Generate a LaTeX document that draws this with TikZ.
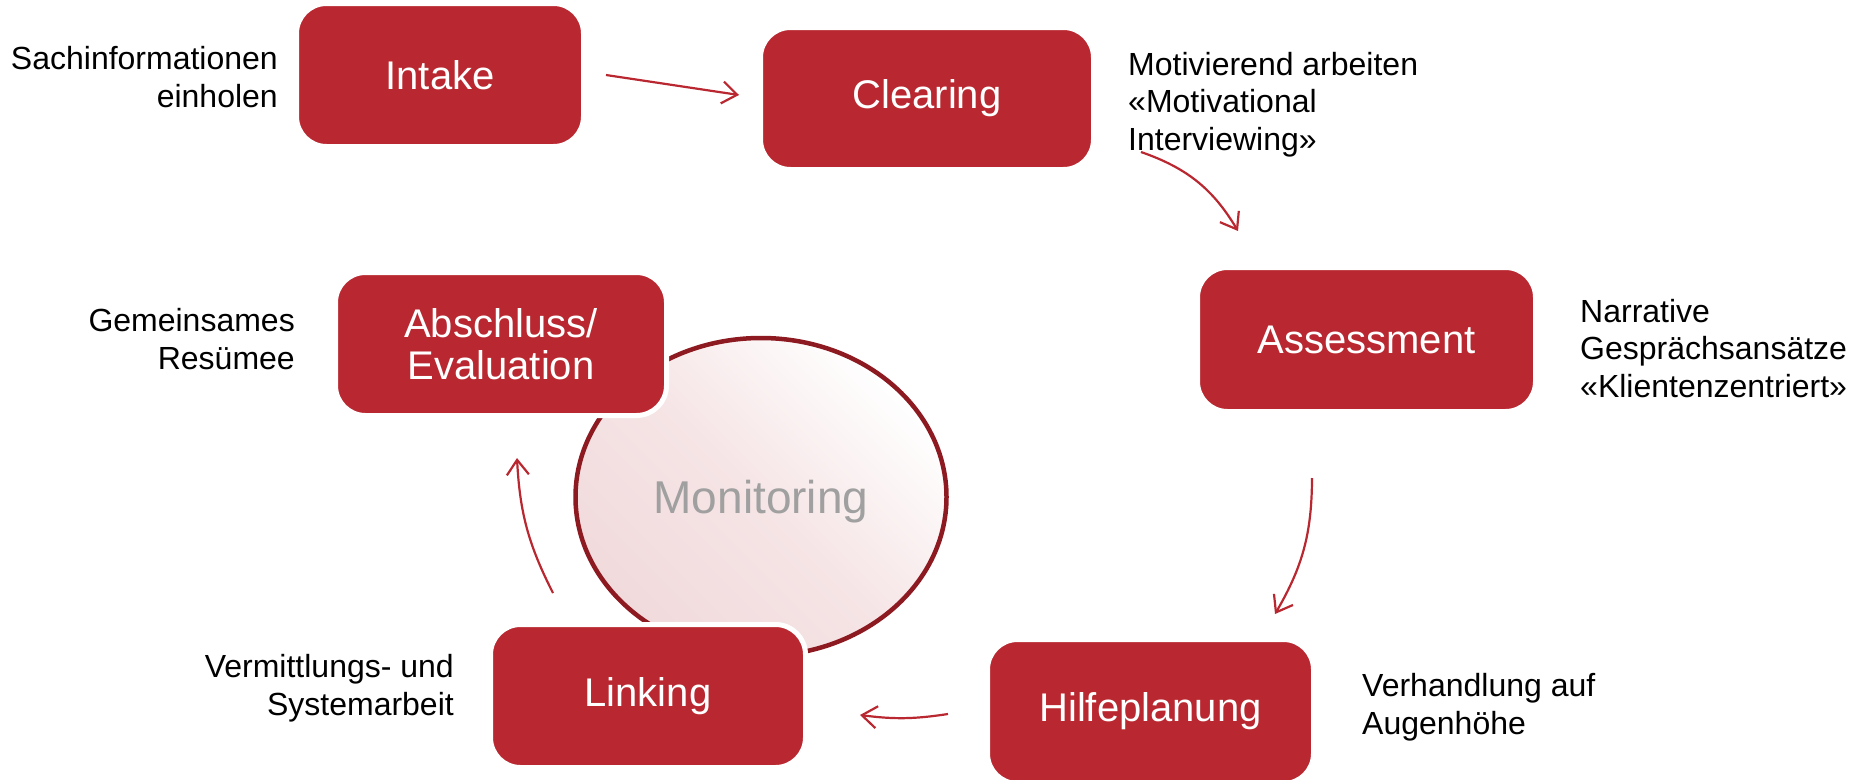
\documentclass[tikz,border=0pt]{standalone}
\usepackage{fontspec}
\setmainfont{Liberation Sans}
\usetikzlibrary{shapes.geometric,arrows.meta}
\definecolor{boxred}{RGB}{185,40,48}
\definecolor{ringred}{RGB}{140,26,32}
\definecolor{pinkfill}{RGB}{241,218,220}
\definecolor{pinkmid}{RGB}{246,229,230}
\definecolor{montext}{RGB}{160,160,160}
\begin{document}
\begin{tikzpicture}[x=1pt,y=-1pt,
  stage/.style={fill=boxred, draw=white, line width=5pt, rounded corners=30pt,
    text=white, font=\fontsize{40}{42}\selectfont, align=center, inner sep=0pt},
  note/.style={font=\fontsize{32}{37.5}\selectfont, inner sep=0pt, text=black},
  flow/.style={draw=boxred, line width=2.2pt, -{Straight Barb[length=15pt,width=22pt]}}
]
\useasboundingbox (0,0) rectangle (1860,779);

% central ellipse
\node[ellipse, draw=ringred, line width=4.5pt, minimum width=371pt, minimum height=318pt,
  top color=white, bottom color=pinkfill, middle color=pinkmid, shading angle=-45,
  text=montext, font=\fontsize{46}{48}\selectfont, text depth=0pt] (mon) at (761,497) {Monitoring};

% stages
\node[stage, minimum width=287pt, minimum height=143pt] (intake) at (440,75) {Intake};
\node[stage, minimum width=333pt, minimum height=142pt] (clearing) at (927,98.5) {Clearing};
\node[stage, minimum width=338pt, minimum height=144pt] (assess) at (1366.5,339.5) {Assessment};
\node[stage, minimum width=326pt, minimum height=144pt] (hilfe) at (1150.5,711.5) {Hilfeplanung};
\node[stage, minimum width=315pt, minimum height=143pt] (linking) at (648,696) {Linking};
\node[stage, minimum width=331pt, minimum height=143pt] (abschluss) at (501,344) {Abschluss/\\Evaluation};

% connector end points
\coordinate (a1s) at (606,75);   \coordinate (a1e) at (739,95);
\coordinate (a2s) at (1141,152); \coordinate (a2e) at (1238,231);
\coordinate (a3s) at (1312,478); \coordinate (a3e) at (1275,614);
\coordinate (a4s) at (948,714);  \coordinate (a4e) at (860,715);
\coordinate (a5s) at (553,593);  \coordinate (a5e) at (517,458);

\draw[flow] (a1s) -- (a1e);
\draw[flow] (a2s) to[bend left=20] (a2e);
\draw[flow] (a3s) to[bend left=15] (a3e);
\draw[flow] (a4s) to[bend left=8] (a4e);
\draw[flow] (a5s) to[bend left=12] (a5e);

% notes (base anchor = baseline of the last line)
\node[note, anchor=base east, align=right] (n1) at (278,107) {Sachinformationen\\einholen};
\node[note, anchor=base west, align=left] (n2) at (1128,150) {Motivierend arbeiten\\«Motivational\\Interviewing»};
\node[note, anchor=base west, align=left] (n3) at (1580,397) {Narrative\\Gesprächsansätze\\«Klientenzentriert»};
\node[note, anchor=base west, align=left] (n4) at (1362,734) {Verhandlung auf\\Augenhöhe};
\node[note, anchor=base east, align=right] (n5) at (454,715) {Vermittlungs- und\\Systemarbeit};
\node[note, anchor=base east, align=right] (n6) at (295,369) {Gemeinsames\\Resümee};
\end{tikzpicture}
\end{document}
